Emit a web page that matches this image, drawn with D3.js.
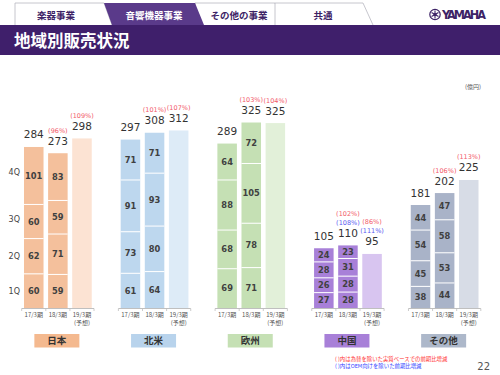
<!DOCTYPE html>
<html><head><meta charset="utf-8">
<script src="https://cdn.jsdelivr.net/npm/d3@7"></script>
<style>body{margin:0;background:#fff}svg{display:block}</style>
</head><body>
<script>
const regions = ["日本","北米","欧州","中国","その他"];
const periods = ["17/3期","18/3期","19/3期"];
const quarters = ["1Q","2Q","3Q","4Q"];
// quarterly values per region: [17/3, 18/3]
const q1Values = [[60,59],[61,64],[69,71],[27,28],[38,44]];
const q2Values = [[62,71],[73,80],[68,78],[26,28],[45,53]];
const q3Values = [[60,59],[91,93],[88,105],[28,31],[54,58]];
const q4Values = [[101,83],[71,71],[64,72],[24,23],[44,47]];
// totals per region: [17/3, 18/3, 19/3 forecast]
const totalValues = [[284,273,298],[297,308,312],[289,325,325],[105,110,95],[181,202,225]];
const realPct = [[null,"(96%)","(109%)"],[null,"(101%)","(107%)"],[null,"(103%)","(104%)"],[null,"(102%)","(86%)"],[null,"(106%)","(113%)"]];
const oemPct = [[null,null,null],[null,null,null],[null,null,null],[null,"(108%)","(111%)"],[null,null,null]];
const tabs = ["楽器事業","音響機器事業","その他の事業","共通"];

const colors = ["#f4c09c","#bdd7ee","#c5e0b4","#a880d8","#a9b3c8"];
const lightColors = ["#fce3d3","#ddebf7","#e2f0d9","#d8c5f0","#d7dce6"];
const boxColors = ["#f4b98f","#b8d3ec","#c5e0b4","#a880d8","#adb8ca"];

const W = 500, H = 375;
const svg = d3.select("body").append("svg").attr("width", W).attr("height", H);
const jp = "'Noto Sans CJK JP', 'Noto Sans', sans-serif";
const num = "'DejaVu Sans', Verdana, sans-serif";

// ---- header tabs ----
const tabGeom = [[15,104,112],[104,195,204],[195,275,285],[275,363,373]];
tabGeom.forEach((g,i)=>{
  if(i===1) return;
  const [l,r,rb] = g;
  svg.append("path").attr("d",`M${l},25 L${l},3 L${r},3 L${rb},25`)
    .attr("fill","#fff").attr("stroke","#b8b8c0").attr("stroke-width",0.8);
});
svg.append("polygon").attr("points","104,3 195,3 204,25 112,25").attr("fill","#5a3a8a");
const tabCx = [56,154,239,323];
tabs.forEach((t,i)=>{
  svg.append("text").attr("x",tabCx[i]).attr("y",18.5).attr("text-anchor","middle")
    .attr("font-family",jp).attr("font-size",9.5).attr("font-weight","bold")
    .attr("fill", i===1 ? "#fff" : "#3d2366").text(t);
});
// Yamaha logo
const lg = svg.append("g").attr("transform","translate(435,14.5)");
lg.append("circle").attr("r",5.2).attr("fill","none").attr("stroke","#3d2366").attr("stroke-width",1.2);
for(let k=0;k<3;k++){
  lg.append("line").attr("x1",0).attr("y1",-4).attr("x2",0).attr("y2",4)
    .attr("stroke","#3d2366").attr("stroke-width",1.1).attr("transform",`rotate(${k*60})`);
}
lg.append("circle").attr("r",1.6).attr("fill","#3d2366");
svg.append("text").attr("x",442).attr("y",18.8).attr("font-family","'Liberation Sans Narrow','DejaVu Sans Condensed',sans-serif")
  .attr("font-size",12.5).attr("font-weight","bold").attr("fill","#3d2366").attr("textLength",44).text("YAMAHA");

// purple band
svg.append("rect").attr("x",0).attr("y",25).attr("width",W).attr("height",30).attr("fill","#3f1f6b");
svg.append("text").attr("x",14).attr("y",46.5).attr("font-family",jp).attr("font-size",16.5)
  .attr("font-weight","bold").attr("fill","#fff").text("地域別販売状況");

// unit
svg.append("text").attr("x",481).attr("y",89).attr("text-anchor","end").attr("font-family",jp)
  .attr("font-size",6).attr("fill","#555").text("(億円)");

// ---- scales ----
const x0 = d3.scaleBand().domain(regions).range([21.7, 480.8]).paddingInner(0.252).paddingOuter(0);
const x1 = d3.scaleBand().domain(periods).range([0, x0.bandwidth()]).paddingInner(0.19).paddingOuter(0.095);
const y = d3.scaleLinear().domain([0, 330]).range([308, 308 - 330*0.569]);

const qArrays = [q1Values,q2Values,q3Values,q4Values];

regions.forEach((reg, ri)=>{
  const g = svg.append("g").attr("transform",`translate(${x0(reg)},0)`);
  [0,1].forEach(pi=>{
    let cum = 0;
    const bx = x1(periods[pi]);
    qArrays.forEach((qa, qi)=>{
      const v = qa[ri][pi];
      const y0 = y(cum), y1v = y(cum+v);
      g.append("rect").attr("x",bx).attr("y",y1v).attr("width",x1.bandwidth()).attr("height",y0-y1v)
        .attr("fill",colors[ri]);
      if(qi>0) g.append("line").attr("x1",bx).attr("x2",bx+x1.bandwidth()).attr("y1",y0).attr("y2",y0)
        .attr("stroke","#fff").attr("stroke-width",1);
      g.append("text").attr("x",bx+x1.bandwidth()/2).attr("y",(y0+y1v)/2+3)
        .attr("text-anchor","middle").attr("font-family",num).attr("font-size",8.3).attr("font-weight","bold")
        .attr("fill","#404040").text(v);
      cum += v;
    });
  });
  const fx = x1(periods[2]);
  g.append("rect").attr("x",fx).attr("y",y(totalValues[ri][2])).attr("width",x1.bandwidth())
    .attr("height",y(0)-y(totalValues[ri][2])).attr("fill",lightColors[ri]);

  periods.forEach((p, pi)=>{
    const tot = totalValues[ri][pi];
    let top;
    if(pi<2){ top = y(qArrays.reduce((s,qa)=>s+qa[ri][pi],0)); } else { top = y(tot); }
    const cx = x1(p)+x1.bandwidth()/2;
    const ty = top - 8.5;
    g.append("text").attr("x",cx).attr("y",ty).attr("text-anchor","middle").attr("font-family",num)
      .attr("font-size",10.5).attr("fill","#333").text(tot);
    let py = ty - 12;
    if(oemPct[ri][pi]){
      g.append("text").attr("x",cx).attr("y",py).attr("text-anchor","middle").attr("font-family",num)
        .attr("font-size",6.5).attr("fill","#5a5af0").text(oemPct[ri][pi]);
      py -= 9;
    }
    if(realPct[ri][pi]){
      g.append("text").attr("x",cx).attr("y",py).attr("text-anchor","middle").attr("font-family",num)
        .attr("font-size",6.5).attr("fill","#f25a6a").text(realPct[ri][pi]);
    }
  });

  g.append("line").attr("x1",0).attr("x2",x0.bandwidth()).attr("y1",308.5).attr("y2",308.5)
    .attr("stroke","#bfbfbf").attr("stroke-width",1);
  const step = x1.step();
  for(let k=0;k<=3;k++){
    const tx = Math.min(k*step, x0.bandwidth());
    g.append("line").attr("x1",tx).attr("x2",tx).attr("y1",308.5).attr("y2",311)
      .attr("stroke","#bfbfbf").attr("stroke-width",0.8);
  }
  periods.forEach((p,pi)=>{
    const cx = x1(p)+x1.bandwidth()/2;
    g.append("text").attr("x",cx).attr("y",317).attr("text-anchor","middle").attr("font-family",jp)
      .attr("font-size",6).attr("fill","#555").text(p);
    if(pi===2) g.append("text").attr("x",cx).attr("y",325).attr("text-anchor","middle").attr("font-family",jp)
      .attr("font-size",6).attr("fill","#555").text("(予想)");
  });
  const mc = x1(periods[1])+x1.bandwidth()/2 - 1;
  g.append("rect").attr("x",mc-22.5).attr("y",334).attr("width",45).attr("height",13.5).attr("fill",boxColors[ri]);
  g.append("text").attr("x",mc).attr("y",344.3).attr("text-anchor","middle").attr("font-family",jp)
    .attr("font-size",9.5).attr("font-weight","bold").attr("fill","#333").text(reg);
});

// quarter labels from Japan 17/3 stack
{
  let cum = 0;
  qArrays.forEach((qa,qi)=>{
    const v = qa[0][0];
    const mid = (y(cum)+y(cum+v))/2;
    const adj = qi===3 ? -4 : (qi===2 ? -3 : 0);
    svg.append("text").attr("x",20).attr("y",mid+3+adj).attr("text-anchor","end").attr("font-family",num)
      .attr("font-size",8).attr("fill","#444").text(quarters[qi]);
    cum += v;
  });
}

svg.append("text").attr("x",335).attr("y",361).attr("font-family",jp).attr("font-size",5.4)
  .attr("fill","#ff3030").text("( )内は為替を除いた実質ベースでの前期比増減");
svg.append("text").attr("x",335).attr("y",368).attr("font-family",jp).attr("font-size",5.4)
  .attr("fill","#3040ff").text("( )内はOEM向けを除いた前期比増減");
svg.append("text").attr("x",490).attr("y",370).attr("text-anchor","end").attr("font-family",num)
  .attr("font-size",10).attr("fill","#555").text("22");
</script>
</body></html>
